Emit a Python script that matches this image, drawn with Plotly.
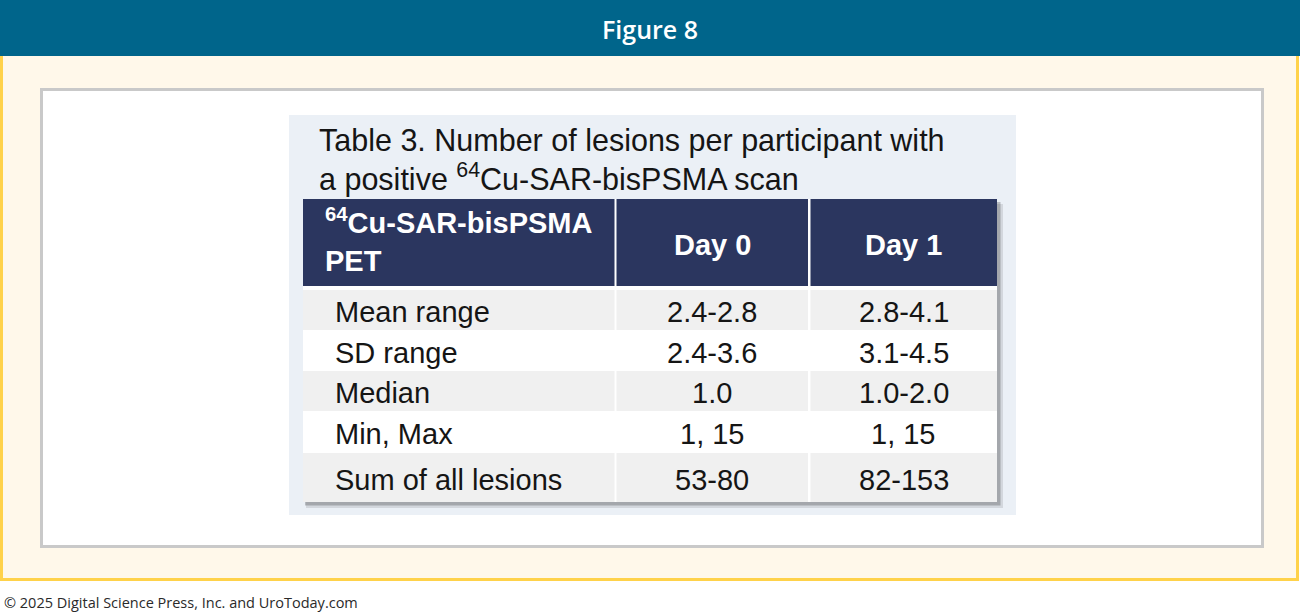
import plotly.graph_objects as go

# ---------------- data ----------------
figure_title = "Figure 8"
table_title_lines = ["Table 3. Number of lesions per participant with",
                     "a positive <sup>64</sup>Cu-SAR-bisPSMA scan"]
header_labels = ["<sup>64</sup>Cu-SAR-bisPSMA<br>PET", "Day 0", "Day 1"]
row_labels = ["Mean range", "SD range", "Median", "Min, Max", "Sum of all lesions"]
day0_values = ["2.4-2.8", "2.4-3.6", "1.0", "1, 15", "53-80"]
day1_values = ["2.8-4.1", "3.1-4.5", "1.0-2.0", "1, 15", "82-153"]
copyright_text = "© 2025 Digital Science Press, Inc. and UroToday.com"

# ---------------- layout geometry (pixels) ----------------
W, H = 1300, 613
col_left = [303, 616.5, 810.5]
col_right = [614.5, 808, 997]
header_top, header_bottom = 199, 286
row_edges = [290, 330, 371, 411, 453, 502]

BANNER = "#00658B"
CREAM = "#FFF8EA"
YELLOW = "#FFD24A"
NAVY = "#2B365F"
ROWGRAY = "#F0F0F0"
TXT = "#151515"
TABLE_FONT = "Liberation Sans, Arial, sans-serif"

shapes = []
annotations = []

def rect(x0, y0, x1, y1, fill, line_color=None, lw=0, layer="below"):
    shapes.append(dict(type="rect", xref="x", yref="y", x0=x0, y0=y0, x1=x1, y1=y1,
                       fillcolor=fill, layer=layer,
                       line=dict(color=line_color or fill, width=lw)))

# page
rect(1.5, 50, 1297.5, 579.5, CREAM, YELLOW, 3)
rect(0, 0, 1300, 56, BANNER)
rect(41.5, 89.5, 1262.5, 546.5, "#FFFFFF", "#C9C9C9", 3)

# table picture background
rect(289, 115, 1016, 515, "#EBF0F6")
# drop shadow
rect(306, 204, 1003, 508, "rgba(0,0,0,0.10)")
rect(305, 202, 1000.5, 505.5, "rgba(0,0,0,0.22)")
# table body white
rect(303, header_top, 997, row_edges[-1], "#FFFFFF")

# header cells
for i in range(3):
    rect(col_left[i], header_top, col_right[i], header_bottom, NAVY)
# body rows
for r in range(len(row_labels)):
    if r % 2 == 0:
        for i in range(3):
            rect(col_left[i], row_edges[r], col_right[i], row_edges[r + 1], ROWGRAY)

# ---------------- text ----------------
annotations.append(dict(x=650, y=29, text=figure_title, showarrow=False,
                        xanchor="center", yanchor="middle",
                        font=dict(family="Open Sans", size=25, color="#FFFFFF", weight=600)))

title_y = [140, 177]
for line, yy in zip(table_title_lines, title_y):
    annotations.append(dict(x=317, y=yy, text=line, showarrow=False,
                            xanchor="left", yanchor="middle",
                            font=dict(family=TABLE_FONT, size=30.5, color=TXT)))

# header labels
annotations.append(dict(x=323, y=240, text=header_labels[0], showarrow=False,
                        xanchor="left", yanchor="middle", align="left",
                        font=dict(family=TABLE_FONT, size=29, color="#FFFFFF", weight="bold")))
for i in (1, 2):
    annotations.append(dict(x=(col_left[i] + col_right[i]) / 2, y=245, text=header_labels[i],
                            showarrow=False, xanchor="center", yanchor="middle",
                            font=dict(family=TABLE_FONT, size=29, color="#FFFFFF", weight="bold")))

# body
for r in range(len(row_labels)):
    yc = (row_edges[r] + row_edges[r + 1]) / 2 + 2
    annotations.append(dict(x=333, y=yc, text=row_labels[r], showarrow=False,
                            xanchor="left", yanchor="middle",
                            font=dict(family=TABLE_FONT, size=29, color=TXT)))
    for i, vals in ((1, day0_values), (2, day1_values)):
        annotations.append(dict(x=(col_left[i] + col_right[i]) / 2, y=yc, text=vals[r],
                                showarrow=False, xanchor="center", yanchor="middle",
                                font=dict(family=TABLE_FONT, size=29, color=TXT)))

annotations.append(dict(x=2, y=602, text=copyright_text, showarrow=False,
                        xanchor="left", yanchor="middle",
                        font=dict(family="Open Sans", size=14.5, color="#2A2A2A")))

fig = go.Figure()
fig.update_layout(
    width=W, height=H, autosize=False,
    margin=dict(l=0, r=0, t=0, b=0, pad=0),
    paper_bgcolor="#FFFFFF", plot_bgcolor="#FFFFFF",
    xaxis=dict(range=[0, W], visible=False, fixedrange=True),
    yaxis=dict(range=[H, 0], visible=False, fixedrange=True),
    shapes=shapes, annotations=annotations, showlegend=False,
)
fig.write_html("out.html", config={"displayModeBar": False},
               post_script="document.body.style.margin='0';document.body.style.overflow='hidden';")
